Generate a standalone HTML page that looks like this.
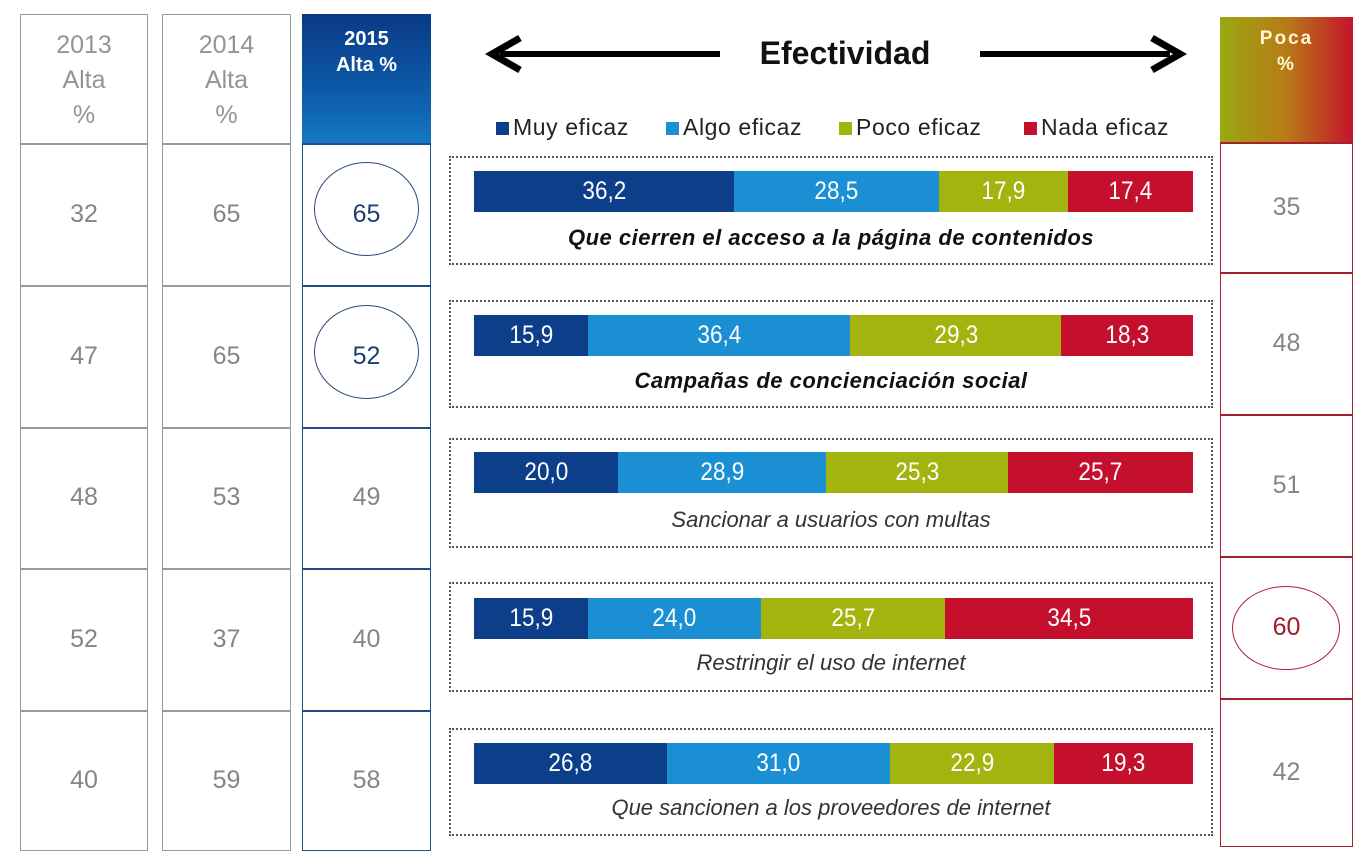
<!DOCTYPE html>
<html><head><meta charset="utf-8"><style>
body{margin:0;width:1372px;height:866px;background:#fff;font-family:"Liberation Sans",sans-serif;position:relative;overflow:hidden}
.a{position:absolute;box-sizing:border-box}
.cell{position:absolute;box-sizing:border-box;display:flex;align-items:center;justify-content:center;color:#8a8480;font-size:25px}
.hd{color:#999290;font-size:25px;line-height:35px;text-align:center}
.bar{position:absolute;left:474px;width:719px;display:flex;height:41px}
.bar div{display:flex;align-items:center;justify-content:center;color:#fff;font-size:25px}
.bar span{display:inline-block;transform:scaleX(.9)}
.c1{background:#0c3e8a}.c2{background:#1b8fd3}.c3{background:#a3b40e}.c4{background:#c4102c}
.box{position:absolute;left:449px;width:764px;border:2px dotted #555;box-sizing:border-box}
.lab{position:absolute;left:449px;width:764px;text-align:center;font-size:22px;font-style:italic;color:#333}
.lab.b{font-weight:bold;color:#111;letter-spacing:.5px}
.ov{position:absolute;border:1.5px solid #2a4a7a;border-radius:50%;box-sizing:border-box}
.lg{position:absolute;top:114px;font-size:23px;color:#222;white-space:nowrap;letter-spacing:.6px}
.lg i{display:inline-block;width:13px;height:13px;margin-right:4px}
</style></head><body>
<div class="a" style="left:20px;top:14px;width:128px;height:837px;border:1.5px solid #999"></div>
<div class="a" style="left:162px;top:14px;width:129px;height:837px;border:1.5px solid #999"></div>
<div class="a" style="left:302px;top:14px;width:129px;height:837px;border:1.5px solid #1d4e8a"></div>
<div class="a" style="left:1220px;top:17px;width:133px;height:830px;border:1.5px solid #a3202c"></div>
<div class="cell hd" style="left:20px;top:28px;width:128px;display:block">2013<br>Alta<br>%</div>
<div class="cell hd" style="left:162px;top:28px;width:129px;display:block">2014<br>Alta<br>%</div>
<div class="a" style="left:302px;top:14px;width:129px;height:129px;background:linear-gradient(180deg,#0a3a86 0%,#0d5aa8 60%,#1478c4 100%)"></div>
<div class="a" style="left:302px;top:26px;width:129px;text-align:center;color:#fff;font-weight:bold;font-size:20px;line-height:26px">2015<br>Alta %</div>
<div class="a" style="left:1220px;top:17px;width:133px;height:125px;background:linear-gradient(90deg,#9aa810 0%,#b87a18 50%,#c4142a 100%)"></div>
<div class="a" style="left:1220px;top:26px;width:133px;text-align:center;color:#fff8d0;font-weight:bold;font-size:19px;line-height:26px;letter-spacing:2px">Poca<br>%</div>
<div class="a" style="left:20px;top:143px;width:411px;height:1.5px;background:#999"></div>
<div class="a" style="left:20px;top:285px;width:411px;height:1.5px;background:#999"></div>
<div class="a" style="left:20px;top:427px;width:411px;height:1.5px;background:#999"></div>
<div class="a" style="left:20px;top:568px;width:411px;height:1.5px;background:#999"></div>
<div class="a" style="left:20px;top:710px;width:411px;height:1.5px;background:#999"></div>
<div class="a" style="left:148px;top:0;width:14px;height:866px;background:#fff"></div>
<div class="a" style="left:291px;top:0;width:11px;height:866px;background:#fff"></div>
<div class="a" style="left:302px;top:143px;width:129px;height:1.5px;background:#1d4e8a"></div>
<div class="a" style="left:302px;top:285px;width:129px;height:1.5px;background:#1d4e8a"></div>
<div class="a" style="left:302px;top:427px;width:129px;height:1.5px;background:#1d4e8a"></div>
<div class="a" style="left:302px;top:568px;width:129px;height:1.5px;background:#1d4e8a"></div>
<div class="a" style="left:302px;top:710px;width:129px;height:1.5px;background:#1d4e8a"></div>
<div class="a" style="left:1220px;top:142px;width:133px;height:1.5px;background:#a3202c"></div>
<div class="a" style="left:1220px;top:272px;width:133px;height:1.5px;background:#a3202c"></div>
<div class="a" style="left:1220px;top:414px;width:133px;height:1.5px;background:#a3202c"></div>
<div class="a" style="left:1220px;top:556px;width:133px;height:1.5px;background:#a3202c"></div>
<div class="a" style="left:1220px;top:698px;width:133px;height:1.5px;background:#a3202c"></div>
<div class="cell" style="left:20px;top:143px;width:128px;height:142px">32</div>
<div class="cell" style="left:20px;top:285px;width:128px;height:142px">47</div>
<div class="cell" style="left:20px;top:427px;width:128px;height:141px">48</div>
<div class="cell" style="left:20px;top:568px;width:128px;height:142px">52</div>
<div class="cell" style="left:20px;top:710px;width:128px;height:140px">40</div>
<div class="cell" style="left:162px;top:143px;width:129px;height:142px">65</div>
<div class="cell" style="left:162px;top:285px;width:129px;height:142px">65</div>
<div class="cell" style="left:162px;top:427px;width:129px;height:141px">53</div>
<div class="cell" style="left:162px;top:568px;width:129px;height:142px">37</div>
<div class="cell" style="left:162px;top:710px;width:129px;height:140px">59</div>
<div class="cell" style="left:302px;top:143px;width:129px;height:142px;color:#1a3f70">65</div>
<div class="cell" style="left:302px;top:285px;width:129px;height:142px;color:#1a3f70">52</div>
<div class="cell" style="left:302px;top:427px;width:129px;height:141px">49</div>
<div class="cell" style="left:302px;top:568px;width:129px;height:142px">40</div>
<div class="cell" style="left:302px;top:710px;width:129px;height:140px">58</div>
<div class="ov" style="left:314px;top:162px;width:105px;height:94px"></div>
<div class="ov" style="left:314px;top:305px;width:105px;height:94px"></div>
<div class="cell" style="left:1220px;top:142px;width:133px;height:130px">35</div>
<div class="cell" style="left:1220px;top:272px;width:133px;height:142px">48</div>
<div class="cell" style="left:1220px;top:414px;width:133px;height:142px">51</div>
<div class="cell" style="left:1220px;top:556px;width:133px;height:142px;color:#a01a28">60</div>
<div class="cell" style="left:1220px;top:698px;width:133px;height:149px">42</div>
<div class="ov" style="left:1232px;top:586px;width:108px;height:84px;border-color:#b02030"></div>
<svg class="a" style="left:480px;top:30px" width="710" height="50">
<line x1="20" y1="24" x2="240" y2="24" stroke="#000" stroke-width="6"/>
<polyline points="40,8 12,24 40,40" fill="none" stroke="#000" stroke-width="7"/>
<line x1="500" y1="24" x2="690" y2="24" stroke="#000" stroke-width="6"/>
<polyline points="672,8 700,24 672,40" fill="none" stroke="#000" stroke-width="7"/>
</svg>
<div class="a" style="left:700px;top:35px;width:290px;text-align:center;font-size:32px;font-weight:bold;color:#111">Efectividad</div>
<div class="lg" style="left:496px"><i style="background:#0c3e8a"></i>Muy eficaz</div>
<div class="lg" style="left:666px"><i style="background:#1b8fd3"></i>Algo eficaz</div>
<div class="lg" style="left:839px"><i style="background:#a3b40e"></i>Poco eficaz</div>
<div class="lg" style="left:1024px"><i style="background:#c4102c"></i>Nada eficaz</div>
<div class="box" style="top:156px;height:109px"></div>
<div class="box" style="top:300px;height:108px"></div>
<div class="box" style="top:438px;height:110px"></div>
<div class="box" style="top:582px;height:110px"></div>
<div class="box" style="top:728px;height:108px"></div>
<div class="bar" style="top:171px"><div class="c1" style="flex:36.2"><span>36,2</span></div><div class="c2" style="flex:28.5"><span>28,5</span></div><div class="c3" style="flex:17.9"><span>17,9</span></div><div class="c4" style="flex:17.4"><span>17,4</span></div></div>
<div class="bar" style="top:315px"><div class="c1" style="flex:15.9"><span>15,9</span></div><div class="c2" style="flex:36.4"><span>36,4</span></div><div class="c3" style="flex:29.3"><span>29,3</span></div><div class="c4" style="flex:18.3"><span>18,3</span></div></div>
<div class="bar" style="top:452px"><div class="c1" style="flex:20"><span>20,0</span></div><div class="c2" style="flex:28.9"><span>28,9</span></div><div class="c3" style="flex:25.3"><span>25,3</span></div><div class="c4" style="flex:25.7"><span>25,7</span></div></div>
<div class="bar" style="top:598px"><div class="c1" style="flex:15.9"><span>15,9</span></div><div class="c2" style="flex:24"><span>24,0</span></div><div class="c3" style="flex:25.7"><span>25,7</span></div><div class="c4" style="flex:34.5"><span>34,5</span></div></div>
<div class="bar" style="top:743px"><div class="c1" style="flex:26.8"><span>26,8</span></div><div class="c2" style="flex:31"><span>31,0</span></div><div class="c3" style="flex:22.9"><span>22,9</span></div><div class="c4" style="flex:19.3"><span>19,3</span></div></div>
<div class="lab b" style="top:225px">Que cierren el acceso a la página de contenidos</div>
<div class="lab b" style="top:368px">Campañas de concienciación social</div>
<div class="lab" style="top:507px">Sancionar a usuarios con multas</div>
<div class="lab" style="top:650px">Restringir el uso de internet</div>
<div class="lab" style="top:795px">Que sancionen a los proveedores de internet</div>
</body></html>
